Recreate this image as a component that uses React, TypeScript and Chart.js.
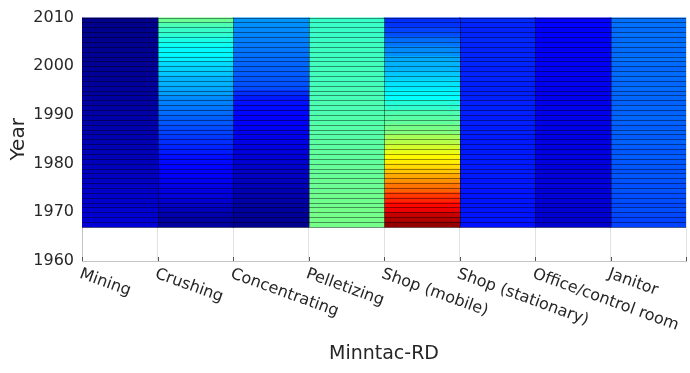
import React, { useEffect, useRef } from 'react';
import { Chart, registerables } from 'chart.js';

Chart.register(...registerables);

// Job categories (x axis)
const categories = [
  'Mining',
  'Crushing',
  'Concentrating',
  'Pelletizing',
  'Shop (mobile)',
  'Shop (stationary)',
  'Office/control room',
  'Janitor',
];

// Row start years, listed top (2009) to bottom (1967); each row spans one year
const years = [
  2009, 2008, 2007, 2006, 2005, 2004, 2003, 2002, 2001, 2000,
  1999, 1998, 1997, 1996, 1995, 1994, 1993, 1992, 1991, 1990,
  1989, 1988, 1987, 1986, 1985, 1984, 1983, 1982, 1981, 1980,
  1979, 1978, 1977, 1976, 1975, 1974, 1973, 1972, 1971, 1970,
  1969, 1968, 1967,
];

// Normalised exposure level (0..1 on the jet colour scale), same order as years
const mining = [
  0.012, 0.013, 0.014, 0.015, 0.016, 0.017, 0.018, 0.019, 0.02, 0.021,
  0.022, 0.023, 0.024, 0.026, 0.028, 0.03, 0.032, 0.034, 0.036, 0.038,
  0.04, 0.042, 0.044, 0.046, 0.048, 0.05, 0.052, 0.054, 0.056, 0.058,
  0.06, 0.062, 0.064, 0.066, 0.068, 0.07, 0.072, 0.074, 0.076, 0.078,
  0.08, 0.083, 0.086,
];
const crushing = [
  0.48, 0.45, 0.43, 0.42, 0.4, 0.39, 0.37, 0.37, 0.36, 0.34,
  0.33, 0.32, 0.3, 0.3, 0.29, 0.28, 0.26, 0.25, 0.24, 0.23,
  0.22, 0.21, 0.2, 0.19, 0.18, 0.17, 0.16, 0.15, 0.14, 0.135,
  0.13, 0.125, 0.12, 0.11, 0.1, 0.095, 0.09, 0.08, 0.07, 0.06,
  0.045, 0.035, 0.03,
];
const concentrating = [
  0.27, 0.265, 0.26, 0.255, 0.25, 0.245, 0.24, 0.235, 0.23, 0.225,
  0.22, 0.215, 0.21, 0.205, 0.2, 0.17, 0.15, 0.14, 0.135, 0.13,
  0.125, 0.12, 0.115, 0.11, 0.105, 0.1, 0.095, 0.09, 0.085, 0.08,
  0.075, 0.07, 0.065, 0.06, 0.055, 0.05, 0.045, 0.04, 0.035, 0.03,
  0.025, 0.02, 0.015,
];
const pelletizing = [
  0.43, 0.43, 0.43, 0.43, 0.43, 0.435, 0.435, 0.435, 0.435, 0.44,
  0.44, 0.44, 0.44, 0.44, 0.445, 0.445, 0.445, 0.45, 0.45, 0.45,
  0.455, 0.455, 0.46, 0.46, 0.46, 0.465, 0.465, 0.47, 0.47, 0.47,
  0.475, 0.475, 0.475, 0.48, 0.48, 0.48, 0.485, 0.485, 0.485, 0.49,
  0.49, 0.49, 0.49,
];
const shopMobile = [
  0.17, 0.175, 0.19, 0.2, 0.23, 0.24, 0.26, 0.265, 0.29, 0.3,
  0.3, 0.32, 0.33, 0.35, 0.355, 0.37, 0.375, 0.41, 0.42, 0.45,
  0.46, 0.47, 0.49, 0.5, 0.54, 0.55, 0.58, 0.6, 0.63, 0.64,
  0.66, 0.68, 0.71, 0.73, 0.76, 0.78, 0.82, 0.84, 0.87, 0.89,
  0.93, 0.95, 0.98,
];
const shopStationary = [
  0.165, 0.16, 0.16, 0.16, 0.165, 0.16, 0.16, 0.16, 0.16, 0.16,
  0.155, 0.16, 0.16, 0.155, 0.155, 0.155, 0.155, 0.155, 0.155, 0.155,
  0.15, 0.155, 0.15, 0.155, 0.15, 0.15, 0.15, 0.15, 0.15, 0.15,
  0.15, 0.15, 0.15, 0.145, 0.15, 0.145, 0.145, 0.145, 0.145, 0.145,
  0.145, 0.145, 0.14,
];
const officeControl = [
  0.128, 0.126, 0.124, 0.122, 0.12, 0.118, 0.117, 0.116, 0.115, 0.114,
  0.113, 0.112, 0.111, 0.11, 0.109, 0.108, 0.107, 0.106, 0.105, 0.104,
  0.103, 0.102, 0.101, 0.1, 0.099, 0.098, 0.097, 0.096, 0.095, 0.094,
  0.093, 0.092, 0.091, 0.09, 0.089, 0.088, 0.087, 0.086, 0.085, 0.084,
  0.082, 0.08, 0.078,
];
const janitor = [
  0.235, 0.235, 0.23, 0.235, 0.23, 0.235, 0.23, 0.23, 0.235, 0.23,
  0.225, 0.23, 0.23, 0.225, 0.23, 0.225, 0.225, 0.22, 0.225, 0.22,
  0.225, 0.22, 0.215, 0.22, 0.215, 0.22, 0.215, 0.21, 0.215, 0.21,
  0.21, 0.205, 0.21, 0.205, 0.2, 0.205, 0.2, 0.2, 0.195, 0.2,
  0.195, 0.19, 0.19,
];

const seriesValues = [
  mining, crushing, concentrating, pelletizing,
  shopMobile, shopStationary, officeControl, janitor,
];

// Y axis ticks
const yearTicks = [1960, 1970, 1980, 1990, 2000, 2010];

const FONT = "'DejaVu Sans', 'Liberation Sans', Arial, sans-serif";
const TEXT = '#262626';

function jet(v: number): string {
  const c = (t: number) => Math.max(0, Math.min(1, t));
  const r = c(1.5 - Math.abs(4 * v - 3));
  const g = c(1.5 - Math.abs(4 * v - 2));
  const b = c(1.5 - Math.abs(4 * v - 1));
  return `rgb(${Math.round(r * 255)},${Math.round(g * 255)},${Math.round(b * 255)})`;
}

// Cell edge lines (drawn over the cells, like pcolor edges) + axis ticks + rotated labels
const overlayPlugin = {
  id: 'overlay',
  afterDatasetsDraw(chart: any) {
    const { ctx } = chart;
    const xs = chart.scales.x;
    const ys = chart.scales.y;
    const x0 = xs.getPixelForValue(1);
    const x1 = xs.getPixelForValue(categories.length + 1);
    const yTop = ys.getPixelForValue(years[0] + 1);
    const yBot = ys.getPixelForValue(years[years.length - 1]);
    ctx.save();
    ctx.strokeStyle = 'rgba(0,0,0,0.42)';
    ctx.lineWidth = 1;
    const bounds = [years[0] + 1, ...years];
    bounds.forEach((b) => {
      const py = Math.round(ys.getPixelForValue(b)) + 0.5;
      ctx.beginPath();
      ctx.moveTo(x0, py);
      ctx.lineTo(x1, py);
      ctx.stroke();
    });
    for (let v = 2; v <= categories.length; v++) {
      const px = Math.round(xs.getPixelForValue(v)) + 0.5;
      ctx.beginPath();
      ctx.moveTo(px, yTop);
      ctx.lineTo(px, yBot);
      ctx.stroke();
    }
    ctx.restore();
  },
  afterDraw(chart: any) {
    const { ctx, chartArea } = chart;
    const xs = chart.scales.x;
    ctx.save();
    ctx.strokeStyle = '#555';
    ctx.lineWidth = 1;
    for (let v = 1; v <= categories.length + 1; v++) {
      const px = Math.round(xs.getPixelForValue(v)) + 0.5;
      ctx.beginPath();
      ctx.moveTo(px, chartArea.bottom);
      ctx.lineTo(px, chartArea.bottom - 4);
      ctx.stroke();
    }
    ctx.fillStyle = TEXT;
    ctx.font = `16px ${FONT}`;
    ctx.textAlign = 'left';
    ctx.textBaseline = 'top';
    categories.forEach((label, i) => {
      const px = xs.getPixelForValue(i + 1);
      ctx.save();
      ctx.translate(px + 1, chartArea.bottom + 5);
      ctx.rotate((20 * Math.PI) / 180);
      ctx.fillText(label, 0, 0);
      ctx.restore();
    });
    ctx.restore();
  },
};

export default function App() {
  const canvasRef = useRef<HTMLCanvasElement | null>(null);

  useEffect(() => {
    if (!canvasRef.current) return;
    const datasets = categories.map((cat, i) => ({
      label: cat,
      data: years.map((yr) => ({ x: i + 1.5, y: [yr, yr + 1] })),
      backgroundColor: seriesValues[i].map(jet),
      borderWidth: 0,
      grouped: false,
      barPercentage: 1,
      categoryPercentage: 1,
      inflateAmount: 0.5,
    }));

    const chart = new Chart(canvasRef.current, {
      type: 'bar',
      data: { datasets } as any,
      options: {
        animation: false,
        responsive: false,
        maintainAspectRatio: false,
        layout: { padding: { top: 14, right: 4, bottom: 0, left: 0 } },
        plugins: {
          legend: { display: false },
          tooltip: { enabled: false },
        },
        scales: {
          x: {
            type: 'linear',
            min: 1,
            max: categories.length + 1,
            offset: false,
            grid: { display: true, color: '#e2e2e2', offset: false, drawTicks: false },
            border: { display: true, color: '#c4c4c4' },
            ticks: { display: false, stepSize: 1 },
            title: {
              display: true,
              text: 'Minntac-RD',
              color: TEXT,
              font: { family: FONT, size: 19 },
              padding: { top: 0, bottom: 8 },
            },
            afterFit: (s: any) => { s.height = 112; },
          },
          y: {
            type: 'linear',
            min: yearTicks[0],
            max: yearTicks[yearTicks.length - 1],
            grid: { display: false, drawTicks: false },
            border: { display: true, color: '#c4c4c4' },
            afterBuildTicks: (s: any) => { s.ticks = yearTicks.map((v) => ({ value: v })); },
            ticks: {
              color: TEXT,
              font: { family: FONT, size: 16 },
              padding: 8,
              callback: (v: any) => String(v),
            },
            title: {
              display: true,
              text: 'Year',
              color: TEXT,
              font: { family: FONT, size: 20 },
              padding: { top: 7, bottom: 0 },
            },
            afterFit: (s: any) => { s.width = 82; },
          },
        },
      } as any,
      plugins: [overlayPlugin],
    });
    return () => chart.destroy();
  }, []);

  return (
    <div style={{ position: 'fixed', left: 0, top: 0, width: 690, height: 373, background: '#fff' }}>
      <canvas ref={canvasRef} width={690} height={373} />
    </div>
  );
}
